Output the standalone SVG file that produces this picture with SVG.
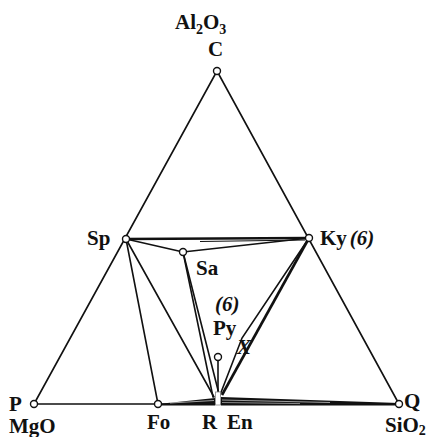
<svg xmlns="http://www.w3.org/2000/svg" width="434" height="437" viewBox="0 0 434 437">
<style>
.ln{stroke:#111;stroke-width:1.6;fill:none;stroke-linecap:round}
.th{stroke:#111;stroke-width:2.6;fill:none}
.tn{stroke:#111;stroke-width:1;fill:none}
.pt{fill:#fff;stroke:#111;stroke-width:1.4}
.lb{font-family:"Liberation Serif","DejaVu Serif",serif;font-size:21px;font-weight:bold;fill:#111}
.it{font-style:italic}
.sb{font-size:14px}
</style>
<rect width="434" height="437" fill="#fff"/>
<g id="connectors">
<line class="ln" x1="217" y1="71" x2="34" y2="404"/>
<line class="ln" x1="217" y1="71" x2="399" y2="404"/>
<line class="ln" x1="34" y1="404" x2="399" y2="404"/>
<line class="th" x1="126" y1="239" x2="309" y2="238"/>
<line class="tn" x1="200" y1="241.5" x2="305" y2="240"/>
<line class="ln" x1="126" y1="239" x2="183" y2="252"/>
<line class="ln" x1="183" y1="252" x2="309" y2="238"/>
<line class="ln" x1="126" y1="239" x2="158" y2="404"/>
<line class="ln" x1="126" y1="239" x2="214" y2="397"/>
<line class="ln" x1="183" y1="252" x2="213" y2="397"/>
<line class="ln" x1="183" y1="252" x2="219" y2="394"/>
<line class="th" x1="309" y1="238" x2="222" y2="395"/>
<polyline class="ln" points="309,238 242,338 220,395"/>
<line class="ln" x1="218" y1="357" x2="218" y2="393"/>
<polygon points="158,404 215,398 215,405.5 158,405.5" fill="#111"/>
<line x1="170" y1="403" x2="214" y2="400.5" stroke="#fff" stroke-width="0.6"/>
<polygon points="221,397 399,403 399,405.5 221,405.5" fill="#111"/>
<line x1="222" y1="400" x2="330" y2="402.5" stroke="#fff" stroke-width="0.6"/>
<line x1="222" y1="402.5" x2="300" y2="403.6" stroke="#fff" stroke-width="0.5"/>
<rect x="215.5" y="392" width="5" height="13" fill="#fff" stroke="#888" stroke-width="0.8"/>
</g>
<g id="node-C">
<circle class="pt" cx="217" cy="71" r="3.5"/>
<text class="lb" x="175" y="29">Al<tspan class="sb" dy="5">2</tspan><tspan dy="-5">O</tspan><tspan class="sb" dy="5">3</tspan></text>
<text class="lb" x="208" y="56">C</text>
</g>
<g id="node-P">
<circle class="pt" cx="34" cy="404" r="3.5"/>
<text class="lb" x="9" y="411">P</text>
<text class="lb" x="9" y="433">MgO</text>
</g>
<g id="node-Q">
<circle class="pt" cx="399" cy="404" r="3.5"/>
<text class="lb" x="404" y="408">Q</text>
<text class="lb" x="385" y="432">SiO<tspan class="sb" dy="3">2</tspan></text>
</g>
<g id="node-Sp">
<circle class="pt" cx="126" cy="239" r="3.5"/>
<text class="lb" x="87" y="245">Sp</text>
</g>
<g id="node-Ky">
<circle class="pt" cx="309" cy="238" r="3.5"/>
<text class="lb" x="320" y="245">Ky<tspan class="it" dx="3">(6)</tspan></text>
</g>
<g id="node-Sa">
<circle class="pt" cx="183" cy="252" r="3.5"/>
<text class="lb" x="196" y="275">Sa</text>
</g>
<g id="node-Py">
<circle class="pt" cx="218" cy="357" r="3.5"/>
<text class="lb it" x="215" y="311">(6)</text>
<text class="lb" x="213" y="335">Py</text>
</g>
<g id="node-X">
<text class="lb it" x="237" y="354">X</text>
</g>
<g id="node-Fo">
<circle class="pt" cx="158" cy="404" r="3.5"/>
<text class="lb" x="147" y="429">Fo</text>
</g>
<g id="node-REn">
<text class="lb" x="202" y="429">R</text>
<text class="lb" x="227" y="429">En</text>
</g>
</svg>
